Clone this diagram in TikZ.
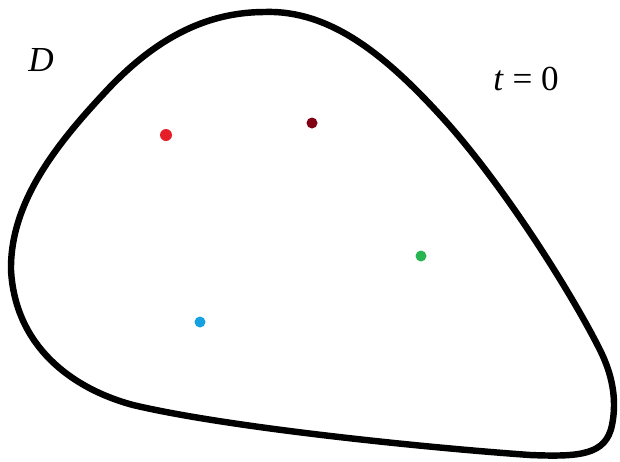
\documentclass[tikz,border=0pt]{standalone}
\usepackage{fontspec}
\setmainfont{Liberation Serif}
\usepackage{tikz}
\usetikzlibrary{positioning}

\definecolor{ptred}{RGB}{230,30,40}
\definecolor{ptdark}{RGB}{130,0,20}
\definecolor{ptgreen}{RGB}{40,180,80}
\definecolor{ptblue}{RGB}{20,160,225}

\begin{document}
\begin{tikzpicture}[
  x=0.3mm,y=-0.3mm,
  boundary/.style={line width=5.5pt,line join=round},
  particle/.style={circle,inner sep=0pt,minimum size=3.3mm},
  lbl/.style={font=\fontsize{30}{36}\selectfont,inner sep=0pt}
]
\useasboundingbox (0,0) rectangle (620,461);

% domain boundary
\draw[boundary] (265,12)
  .. controls (330,10) and (385,55) .. (440,115)
  .. controls (500,180) and (570,290) .. (600,350)
  .. controls (615,380) and (616,405) .. (612,425)
  .. controls (606,455) and (580,457) .. (530,455)
  .. controls (430,448) and (230,428) .. (133,405)
  .. controls (70,388) and (15,345) .. (11,270)
  .. controls (10,200) and (60,140) .. (110,87)
  .. controls (160,35) and (210,12) .. cycle;

% particles
\node[particle,fill=ptred,minimum size=3.6mm] (p1) at (166,135) {};
\node[particle,fill=ptdark] (p2) at (312,123) {};
\node[particle,fill=ptgreen] (p3) at (421,256) {};
\node[particle,fill=ptblue] (p4) at (200,322) {};

% labels
\node[lbl] (dom) at (41,60) {\itshape D};
\node[lbl] (time) at (526,79) {\itshape t\/\upshape{} = 0};

\end{tikzpicture}
\end{document}
